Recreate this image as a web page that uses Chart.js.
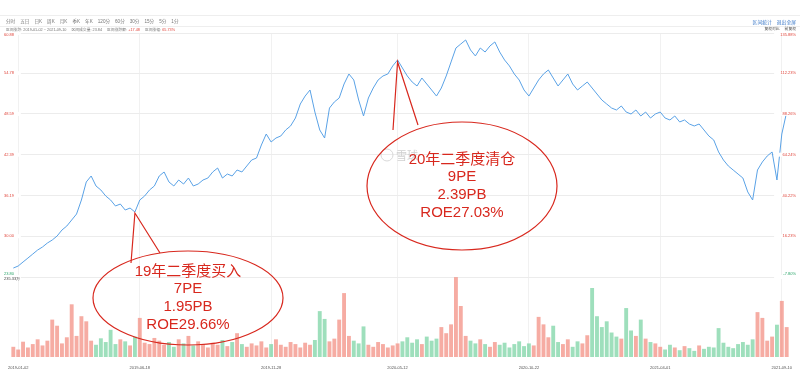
<!DOCTYPE html>
<html>
<head>
<meta charset="utf-8">
<script src="https://cdn.jsdelivr.net/npm/chart.js@4.4.1/dist/chart.umd.min.js"></script>
<style>
  html,body{margin:0;padding:0;background:#fff;}
  #wrap{position:relative;width:800px;height:379px;overflow:hidden;font-family:"Liberation Sans","Noto Sans CJK SC",sans-serif;}
  canvas{position:absolute;left:0;top:0;}
  .hd{position:absolute;white-space:nowrap;color:#777;}
  .hd span{margin-right:5px;}
  .red{color:#e0463c;}
  .blue{color:#3a78c8;}
  .line{position:absolute;left:0;width:800px;height:1px;background:#eee;}
</style>
</head>
<body>
<div id="wrap">
  <canvas id="c" width="800" height="379"></canvas>
  <div class="line" style="top:15px"></div>
  <div class="line" style="top:26px"></div>
  <div class="hd" style="left:6px;top:18px;font-size:4.6px;">
    <span>分时</span><span>五日</span><span>日K</span><span>周K</span><span>月K</span><span>季K</span><span>年K</span><span>120分</span><span>60分</span><span>30分</span><span>15分</span><span>5分</span><span>1分</span>
  </div>
  <div class="hd" style="left:6px;top:27px;font-size:3.8px;">
    <span>区间涨跌: 2019-01-02 ~ 2021-09-10</span><span>区间成交量: 23.84</span><span>区间涨跌额: <b class="red" style="font-weight:normal">+17.48</b></span><span>区间涨幅: <b class="red" style="font-weight:normal">65.73%</b></span>
  </div>
  <div class="hd blue" style="right:4px;top:18px;font-size:4.8px;"><span>区间统计</span><span style="margin-right:0">退出全屏</span></div>
  <div class="hd" style="right:4px;top:26px;font-size:3.8px;color:#444;"><span>复权对比</span><span style="margin-right:0">前复权</span></div>
</div>
<script>
// ---- data ----
const dateTicks = ['2019-01-02','2019-06-18','2019-11-28','2020-05-12','2020-10-22','2021-04-01','2021-09-10'];
const dateTickIdx = [1, 26, 53, 79, 106, 133, 158];

const priceTicks = [60.88, 54.78, 48.59, 42.39, 36.19, 30.00, 23.80];
const pctTicks = ['135.88%','112.23%','88.26%','64.24%','40.22%','16.23%','-7.80%'];

const price = [
 25.16,25.47,26.08,26.68,27.29,27.90,28.36,28.96,29.42,30.03,
 30.94,31.55,32.46,33.37,35.50,38.24,39.15,37.63,37.02,36.11,
 35.50,34.59,34.89,33.98,34.28,33.68,35.50,36.11,37.02,37.63,
 39.15,39.76,38.24,37.63,38.54,37.93,38.84,37.63,37.93,38.54,
 38.84,39.76,40.36,38.84,39.45,39.15,40.06,39.76,40.67,41.58,
 41.88,43.86,45.53,44.32,44.92,45.23,46.14,46.75,47.96,50.09,
 51.30,52.22,48.87,46.14,44.92,49.48,50.40,51.00,53.13,54.65,
 53.74,50.70,48.27,51.00,52.52,53.74,54.35,54.65,55.87,56.78,
 55.56,54.35,53.43,52.83,54.04,53.13,52.22,51.30,52.52,54.35,
 56.48,58.60,59.21,59.82,58.30,57.39,58.60,57.99,58.91,59.52,
 57.99,56.78,55.87,54.65,53.74,52.22,51.30,52.52,53.74,54.65,
 55.26,54.04,52.83,53.74,54.65,53.13,52.22,52.83,53.43,52.52,
 51.61,50.70,50.09,49.48,49.18,49.79,48.87,48.57,49.18,48.27,
 48.87,47.96,48.57,48.87,47.96,47.66,48.27,47.36,47.66,47.05,
 46.75,47.05,46.14,45.23,44.62,42.80,41.58,40.67,40.06,39.45,
 38.84,36.72,35.50,40.06,41.28,42.19,42.80,38.54,45.53,48.87
];

const volume = [
 30,22,45,28,38,52,34,48,110,92,
 40,58,155,62,120,105,48,36,55,44,
 80,38,52,46,34,60,115,42,38,56,
 48,36,44,30,52,40,62,34,46,38,
 28,42,36,50,32,44,70,38,30,40,
 34,46,28,38,52,36,30,44,38,28,
 42,36,50,135,112,46,54,110,188,62,
 48,40,90,36,30,44,38,28,34,40,
 46,58,42,52,38,60,48,54,88,70,
 96,235,150,62,48,40,52,38,30,44,
 36,42,28,38,46,32,40,34,118,96,
 58,92,44,38,52,30,46,40,64,203,
 120,88,105,72,60,54,144,78,62,110,
 54,44,40,30,22,36,28,20,32,26,
 18,34,24,30,28,85,42,30,26,38,
 44,36,52,132,115,48,60,95,165,88
];
const volMaxLabel = 235.33;

// ---- derived ----
const labels = price.map((_, i) => i);
const barColors = price.map((p, i) => (i === 0 || p >= price[i - 1]) ? 'rgba(242,140,128,0.72)' : 'rgba(120,210,162,0.72)');

const TOP = 33, BOTTOM = 357;
const priceMin = 23.80 - (60.88 - 23.80) * (80 / 244);

const labelPlugin = {
  id: 'labels',
  afterDraw(chart) {
    const ctx = chart.ctx;
    const y = chart.scales.y, yv = chart.scales.yv, ca = chart.chartArea;
    ctx.save();
    ctx.font = '4px "Liberation Sans", sans-serif';
    ctx.textBaseline = 'middle';
    priceTicks.forEach((v, i) => {
      const py = y.getPixelForValue(v);
      const last = i === priceTicks.length - 1;
      const ty = i === 0 ? py + 2 : (last ? py - 3 : py);
      ctx.fillStyle = '#fff';
      ctx.fillRect(ca.left, py - 2, 10, 4);
      ctx.fillRect(ca.right - 15, py - 2, 15, 4);
      ctx.fillStyle = last ? '#2aa56a' : '#e0463c';
      ctx.textAlign = 'left';
      ctx.fillText(v.toFixed(2), 4, ty);
      ctx.textAlign = 'right';
      ctx.fillText(pctTicks[i], 796, ty);
    });
    ctx.fillStyle = '#444';
    ctx.textAlign = 'left';
    ctx.fillText(volMaxLabel.toFixed(2) + '万', 4, yv.getPixelForValue(volMaxLabel) + 2);

    // watermark
    ctx.strokeStyle = '#d8d8d8'; ctx.lineWidth = 1;
    ctx.beginPath(); ctx.arc(387, 155, 6, 0, Math.PI * 2); ctx.stroke();
    ctx.fillStyle = '#d0d0d0';
    ctx.font = '11px "Noto Sans CJK SC", sans-serif';
    ctx.fillText('雪球', 396, 156);

    // annotations
    const x = chart.scales.x;
    const red = '#d8281e';
    function bubble(cx, cy, rx, ry, tip, b1, b2, lines, lineH) {
      ctx.strokeStyle = red; ctx.lineWidth = 1.2;
      ctx.beginPath();
      ctx.ellipse(cx, cy, rx, ry, 0, 0, Math.PI * 2);
      ctx.stroke();
      ctx.beginPath();
      ctx.moveTo(b1[0], b1[1]); ctx.lineTo(tip[0], tip[1]); ctx.lineTo(b2[0], b2[1]);
      ctx.stroke();
      ctx.fillStyle = red;
      ctx.font = '15px "Liberation Sans", "Noto Sans CJK SC", sans-serif';
      ctx.textAlign = 'center';
      ctx.textBaseline = 'middle';
      const start = cy - (lines.length - 1) * lineH / 2;
      lines.forEach((t, i) => ctx.fillText(t, cx, start + i * lineH));
    }
    const buyTip = [x.getPixelForValue(25), y.getPixelForValue(price[25]) + 1];
    bubble(188, 298, 95, 47, buyTip, [131, 263], [160, 253],
      ['19年二季度买入', '7PE', '1.95PB', 'ROE29.66%'], 17.7);
    const sellTip = [x.getPixelForValue(79), y.getPixelForValue(price[79]) + 2];
    bubble(462, 186, 95, 64, sellTip, [393, 130], [418, 125],
      ['20年二季度清仓', '9PE', '2.39PB', 'ROE27.03%'], 17.7);
    ctx.restore();
  }
};

new Chart(document.getElementById('c'), {
  data: {
    labels,
    datasets: [
      { type: 'line', data: price, yAxisID: 'y', borderColor: '#5aa2e6', borderWidth: 1,
        pointRadius: 0, tension: 0, order: 0 },
      { type: 'bar', data: volume, yAxisID: 'yv', backgroundColor: barColors,
        barPercentage: 0.8, categoryPercentage: 1, order: 1 }
    ]
  },
  options: {
    responsive: false, animation: false,
    layout: { padding: { left: 3, right: 3, top: TOP, bottom: 0 } },
    plugins: { legend: { display: false }, tooltip: { enabled: false } },
    scales: {
      x: {
        type: 'category', offset: true,
        grid: { offset: false, color: '#f1f1f1', drawTicks: false },
        border: { display: false },
        ticks: {
          autoSkip: false, maxRotation: 0, color: '#555', padding: 8,
          font: { size: 4, family: '"Liberation Sans", sans-serif' },
          callback: (v) => { const k = dateTickIdx.indexOf(v); return k >= 0 ? dateTicks[k] : ''; }
        },
        afterBuildTicks: (s) => { s.ticks = dateTickIdx.map(v => ({ value: v })); },
        afterFit: (s) => { s.height = 379 - BOTTOM; }
      },
      y: {
        position: 'left', min: priceMin, max: 60.88,
        ticks: { display: false },
        grid: { color: '#ececec', drawTicks: false },
        border: { display: false },
        afterBuildTicks: (s) => { s.ticks = priceTicks.map(v => ({ value: v })); },
        afterFit: (s) => { s.width = 0; }
      },
      yv: {
        position: 'right', min: 0, max: volMaxLabel * (BOTTOM - TOP) / 80,
        display: false
      }
    }
  },
  plugins: [labelPlugin]
});
</script>
</body>
</html>
